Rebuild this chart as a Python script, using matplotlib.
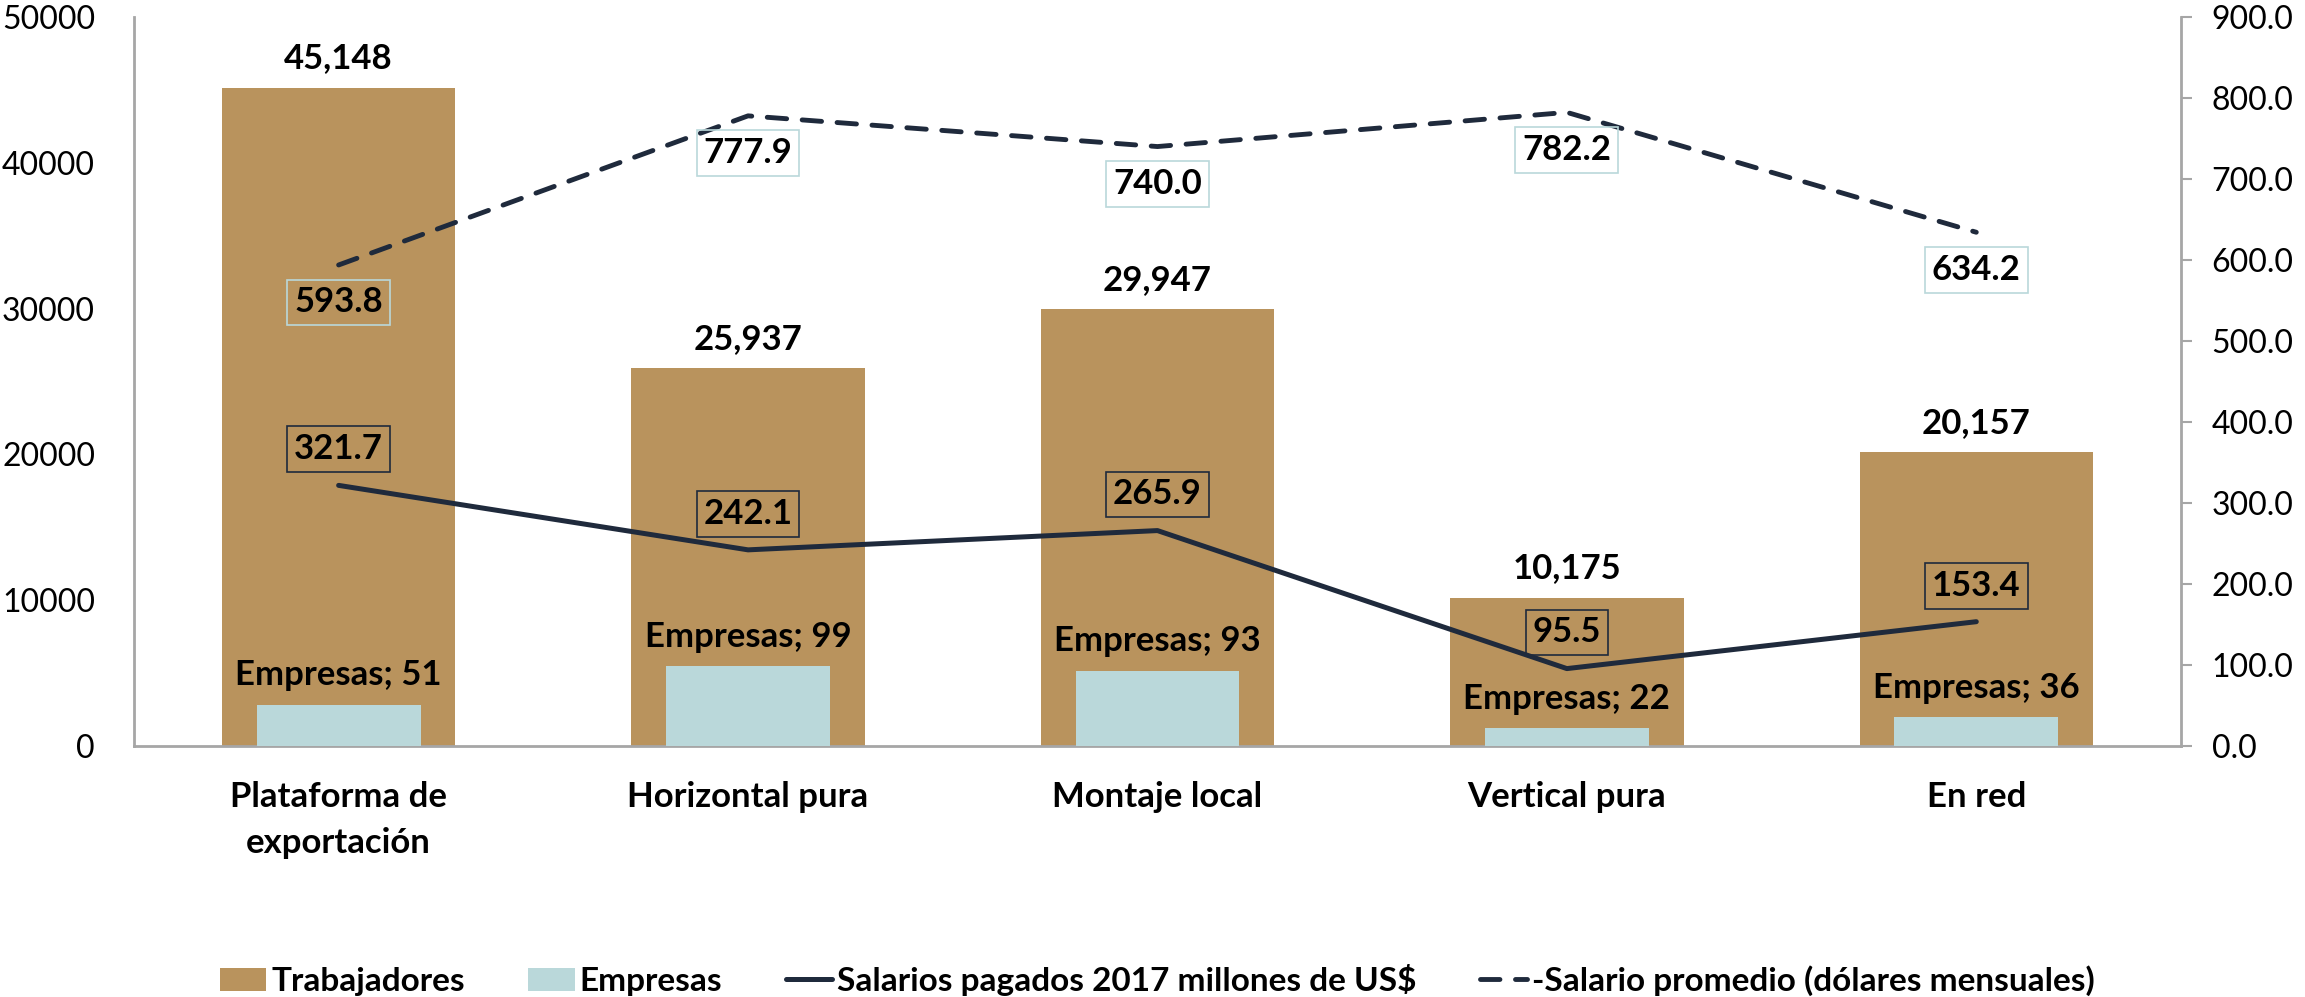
import matplotlib
matplotlib.use("Agg")
import matplotlib.pyplot as plt
import numpy as np

plt.rcParams['font.family'] = ['Lato', 'DejaVu Sans']

# Datos
categorias = ["Plataforma de\nexportación", "Horizontal pura", "Montaje local", "Vertical pura", "En red"]
trabajadores = [45148, 25937, 29947, 10175, 20157]
empresas = [51, 99, 93, 22, 36]
salarios_pagados = [321.7, 242.1, 265.9, 95.5, 153.4]
salario_promedio = [593.8, 777.9, 740.0, 782.2, 634.2]

c_trab = "#B9935D"
c_emp = "#BAD8DA"
c_linea = "#1F2A3C"
c_eje = "#A6A6A6"

fig = plt.figure(figsize=(23.05, 9.97), dpi=100)
ax = fig.add_axes([0.0581, 0.2518, 0.8881, 0.7312])
ax2 = ax.twinx()

x = np.arange(len(categorias))

# Barras trabajadores (eje izquierdo)
b1 = ax.bar(x, trabajadores, width=0.57, color=c_trab, label="Trabajadores")
ax.set_ylim(0, 50000)
ax.set_xlim(-0.5, len(categorias) - 0.5)
ax.set_yticks(range(0, 50001, 10000))
ax.set_yticklabels([str(v) for v in range(0, 50001, 10000)])

for xi, v in zip(x, trabajadores):
    ax.annotate(f"{v:,}", (xi, v), xytext=(0, 21), textcoords="offset points",
                ha="center", va="center", fontsize=25, fontweight="bold")

# Empresas y salarios (eje derecho)
b2 = ax2.bar(x, empresas, width=0.40, color=c_emp, label="Empresas")
l1, = ax2.plot(x, salarios_pagados, color=c_linea, lw=3.6, solid_capstyle="round",
               label="Salarios pagados 2017 millones de US$")
l2, = ax2.plot(x, salario_promedio, color=c_linea, lw=3.5, dashes=(4, 3.2),
               dash_capstyle="round", label="-Salario promedio (dólares mensuales)")
ax2.set_ylim(0, 900)
ax2.set_yticks(range(0, 901, 100))
ax2.set_yticklabels([f"{v:.1f}" for v in range(0, 901, 100)])

for xi, v in zip(x, empresas):
    ax2.annotate(f"Empresas; {v}", (xi, v), xytext=(0, 21), textcoords="offset points",
                 ha="center", va="center", fontsize=25, fontweight="bold")

for xi, v in zip(x, salarios_pagados):
    ax2.annotate(f"{v:.1f}", (xi, v), xytext=(0, 26), textcoords="offset points",
                 ha="center", va="center", fontsize=25, fontweight="bold",
                 bbox=dict(boxstyle="square,pad=0.2", fc="none", ec=c_linea, lw=1.2))

for xi, v in zip(x, salario_promedio):
    ax2.annotate(f"{v:.1f}", (xi, v), xytext=(0, -27), textcoords="offset points",
                 ha="center", va="center", fontsize=25, fontweight="bold",
                 bbox=dict(boxstyle="square,pad=0.2", fc="none", ec=c_emp, lw=1.2))

# Ejes
ax.set_xticks(x)
ax.set_xticklabels(categorias, fontsize=25, fontweight="bold", linespacing=1.55)
ax.tick_params(axis="x", length=0, pad=25)
ax.tick_params(axis="y", length=0, labelsize=23, pad=28)
ax2.tick_params(axis="y", length=8, width=1.5, color=c_eje, labelsize=23, pad=14)

for a in (ax, ax2):
    a.spines["top"].set_visible(False)
    for s in ("left", "right", "bottom"):
        a.spines[s].set_color(c_eje)
        a.spines[s].set_linewidth(2)
ax.spines["right"].set_visible(False)
ax2.spines["left"].set_visible(False)
ax2.spines["bottom"].set_visible(False)

# Leyenda
fig.legend([b1, b2, l1, l2], [b1.get_label(), b2.get_label(), l1.get_label(), l2.get_label()],
           loc="center", bbox_to_anchor=(0.502, 0.017), ncol=4,
           frameon=False, handlelength=1.4, handletextpad=0.15, columnspacing=1.9,
           prop={"size": 24, "weight": "bold"})

plt.savefig("out.png", dpi=100)
plt.close()
